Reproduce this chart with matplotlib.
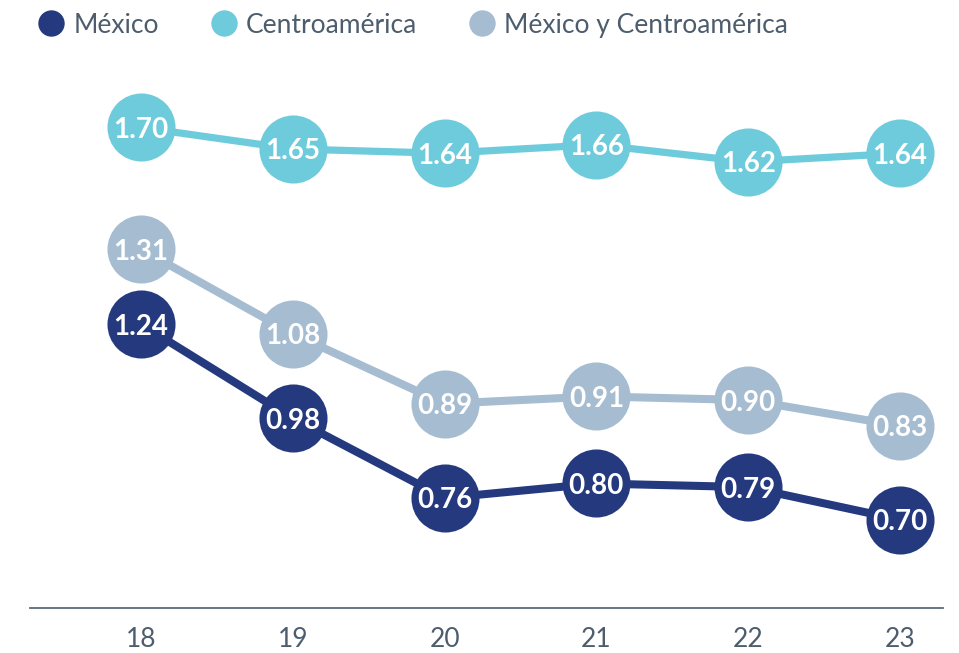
import matplotlib.pyplot as plt
from matplotlib.lines import Line2D

years = ['18', '19', '20', '21', '22', '23']
x = [18, 19, 20, 21, 22, 23]
mexico = [1.24, 0.98, 0.76, 0.80, 0.79, 0.70]
centro = [1.70, 1.65, 1.64, 1.66, 1.62, 1.64]
mex_centro = [1.31, 1.08, 0.89, 0.91, 0.90, 0.83]

c_mex = '#253a7e'
c_cen = '#6ecbdb'
c_both = '#a6bcd1'
c_text = '#4d5d6d'

plt.rcParams['font.family'] = ['Lato', 'DejaVu Sans']

fig = plt.figure(figsize=(9.59, 6.53), dpi=100)
ax = fig.add_axes([30/959, 45/653, 913/959, 548/653])
ax2 = ax.twinx()
ax3 = ax.twinx()

# each series gets its own hidden y scale (the original chart is not to a common scale)
series = [
    (ax, centro, c_cen, (0.582, 1.857), 5.2),
    (ax2, mex_centro, c_both, (0.335, 1.824), 5.8),
    (ax3, mexico, c_mex, (0.456, 1.970), 5.8),
]
for a, vals, col, lim, lw in series:
    a.plot(x, vals, color=col, lw=lw, marker='o', ms=49, mec='none',
           solid_capstyle='round', clip_on=False)
    for xi, v in zip(x, vals):
        a.text(xi, v, f'{v:.2f}', ha='center', va='center_baseline',
               color='white', fontsize=20, fontweight='bold')
    a.set_ylim(*lim)
    a.set_yticks([])
    for s in a.spines.values():
        s.set_visible(False)

ax.set_xlim(17.269, 23.283)
ax.set_xticks(x)
ax.set_xticklabels(years)
ax.tick_params(axis='x', length=0, pad=14, labelsize=19, labelcolor=c_text)
ax.spines['bottom'].set_visible(True)
ax.spines['bottom'].set_color('#5b6b7b')
ax.spines['bottom'].set_linewidth(1.3)

handles = [
    Line2D([], [], ls='none', marker='o', ms=19, color=c_mex, mec='none'),
    Line2D([], [], ls='none', marker='o', ms=19, color=c_cen, mec='none'),
    Line2D([], [], ls='none', marker='o', ms=19, color=c_both, mec='none'),
]
fig.legend(handles, ['México', 'Centroamérica', 'México y Centroamérica'],
           loc='upper left', bbox_to_anchor=(0.0148, 1.017), ncol=3, frameon=False,
           fontsize=19, labelcolor=c_text, handletextpad=0.35, columnspacing=1.95,
           handlelength=1.0)

fig.savefig('out.png', dpi=100)
